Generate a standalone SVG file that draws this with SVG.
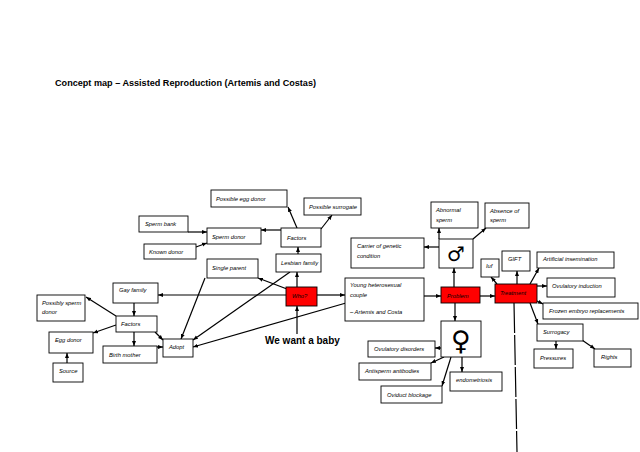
<svg xmlns="http://www.w3.org/2000/svg" width="640" height="452" viewBox="0 0 640 452">
<defs>
<style>
.n rect{fill:#fff;stroke:#000;stroke-width:0.9}
.n rect.r{fill:#f00}
.n text{font-family:"Liberation Sans",Arial,sans-serif;font-style:italic;font-size:5.8px;fill:#000}
.n text.sym{font-family:"DejaVu Sans",sans-serif;font-style:normal;font-weight:bold;text-anchor:middle}
.c line{stroke:#000;stroke-width:1.2;fill:none}
.c line.a{marker-end:url(#ah)}
.t{font-family:"Liberation Sans",Arial,sans-serif;font-weight:bold;fill:#000}
</style>
<marker id="ah" viewBox="0 0 10 10" refX="10" refY="5" markerWidth="5" markerHeight="5" markerUnits="userSpaceOnUse" orient="auto">
<path d="M0,1 L10,5 L0,9 z" fill="#000"/>
</marker>
</defs>
<rect width="640" height="452" fill="#fff"/>
<text class="t" x="55" y="85.5" font-size="9" textLength="261" lengthAdjust="spacingAndGlyphs">Concept map – Assisted Reproduction (Artemis and Costas)</text>

<g class="c">
<line class="a" x1="286" y1="295" x2="158" y2="295"/>
<line class="a" x1="317" y1="295" x2="345" y2="295"/>
<line class="a" x1="297" y1="287" x2="297" y2="272"/>
<line class="a" x1="287" y1="289" x2="258" y2="278"/>
<line class="a" x1="205" y1="278" x2="181" y2="339"/>
<line class="a" x1="290" y1="272" x2="193" y2="340"/>
<line class="a" x1="346" y1="303" x2="193" y2="347"/>
<line class="a" x1="297" y1="334" x2="297" y2="306"/>
<line class="a" x1="298" y1="254" x2="298" y2="247"/>
<line class="a" x1="281" y1="230" x2="261" y2="230"/>
<line class="a" x1="297" y1="228" x2="288" y2="207"/>
<line class="a" x1="321" y1="229" x2="332" y2="215"/>
<line class="a" x1="188" y1="232" x2="207" y2="232"/>
<line class="a" x1="196" y1="247" x2="207" y2="243"/>
<line class="a" x1="134" y1="303" x2="134" y2="316"/>
<line class="a" x1="116" y1="316" x2="86" y2="297"/>
<line class="a" x1="116" y1="325" x2="93" y2="333"/>
<line class="a" x1="134" y1="332" x2="134" y2="346"/>
<line class="a" x1="155" y1="332" x2="163" y2="340"/>
<line class="a" x1="157" y1="347" x2="163" y2="347"/>
<line class="a" x1="67" y1="363" x2="67" y2="353"/>
<line class="a" x1="424" y1="296" x2="441" y2="296"/>
<line class="a" x1="480" y1="296" x2="495" y2="296"/>
<line class="a" x1="454" y1="287" x2="454" y2="268"/>
<line class="a" x1="455" y1="303" x2="455" y2="321"/>
<line class="a" x1="439" y1="247" x2="424" y2="247"/>
<line class="a" x1="439" y1="239" x2="439" y2="228"/>
<line class="a" x1="473" y1="239" x2="486" y2="228"/>
<line class="a" x1="497" y1="284" x2="491" y2="277"/>
<line class="a" x1="517" y1="284" x2="517" y2="271"/>
<line class="a" x1="530" y1="284" x2="539" y2="268"/>
<line class="a" x1="537" y1="286" x2="547" y2="286"/>
<line class="a" x1="537" y1="301" x2="543" y2="304"/>
<line class="a" x1="530" y1="303" x2="538" y2="324"/>
<line class="a" x1="556" y1="341" x2="556" y2="349"/>
<line class="a" x1="582" y1="340" x2="595" y2="349"/>
<line class="a" x1="441" y1="348" x2="435" y2="348"/>
<line class="a" x1="444" y1="357" x2="431" y2="363"/>
<line class="a" x1="451" y1="357" x2="442" y2="386"/>
<line class="a" x1="462" y1="357" x2="462" y2="372"/>
<line x1="514" y1="303" x2="517" y2="452" stroke-dasharray="30 2"/>
</g>

<g class="n" id="possible-egg-donor"><rect x="211" y="190" width="76" height="17"/><text x="216" y="201">Possible egg donor</text></g>
<g class="n" id="possible-surrogate"><rect x="304" y="198" width="57" height="17"/><text x="309" y="209">Possible surrogate</text></g>
<g class="n" id="sperm-bank"><rect x="139" y="216" width="49" height="16"/><text x="145" y="226">Sperm bank</text></g>
<g class="n" id="sperm-donor"><rect x="207" y="228" width="54" height="16"/><text x="212" y="238.5">Sperm donor</text></g>
<g class="n" id="known-donor"><rect x="144" y="244" width="52" height="15"/><text x="149" y="254">Known donor</text></g>
<g class="n" id="factors-lesbian"><rect x="281" y="228" width="40" height="19"/><text x="287" y="239.5">Factors</text></g>
<g class="n" id="lesbian-family"><rect x="276" y="254" width="45" height="18"/><text x="281" y="265">Lesbian family</text></g>
<g class="n" id="single-parent"><rect x="207" y="259" width="51" height="19"/><text x="212" y="270">Single parent</text></g>
<g class="n" id="who"><rect class="r" x="286" y="287" width="31" height="19"/><text x="292" y="298">Who?</text></g>
<g class="n" id="young-couple"><rect x="345" y="278" width="79" height="43"/><text x="350" y="287">Young heterosexual</text><text x="350" y="297">couple</text><text x="350" y="314">– Artemis and Costa</text></g>
<g class="n" id="gay-family"><rect x="113" y="283" width="45" height="20"/><text x="119" y="291.5">Gay family</text></g>
<g class="n" id="possibly-sperm-donor"><rect x="37" y="295" width="48" height="26"/><text x="42" y="305">Possibly sperm</text><text x="42" y="314">donor</text></g>
<g class="n" id="factors-gay"><rect x="116" y="316" width="41" height="16"/><text x="121" y="325.5">Factors</text></g>
<g class="n" id="egg-donor"><rect x="49" y="332" width="44" height="21"/><text x="55" y="342">Egg donor</text></g>
<g class="n" id="birth-mother"><rect x="103" y="346" width="54" height="17"/><text x="109" y="356.5">Birth mother</text></g>
<g class="n" id="adopt"><rect x="163" y="339" width="30" height="18"/><text x="169" y="349">Adopt</text></g>
<g class="n" id="source"><rect x="53" y="363" width="30" height="19"/><text x="59" y="373">Source</text></g>
<g id="we-want-a-baby"><text class="t" x="265" y="344" font-size="10">We want a baby</text></g>
<g class="n" id="abnormal-sperm"><rect x="431" y="202" width="47" height="26"/><text x="436" y="211.5">Abnormal</text><text x="436" y="221.5">sperm</text></g>
<g class="n" id="absence-of-sperm"><rect x="485" y="203" width="44" height="25"/><text x="490" y="212.5">Absence of</text><text x="490" y="222">sperm</text></g>
<g class="n" id="male"><rect x="439" y="239" width="34" height="29"/><text class="sym" x="456" y="261" style="font-size:20px">♂</text></g>
<g class="n" id="carrier"><rect x="351" y="238" width="73" height="30"/><text x="357" y="248">Carrier of genetic</text><text x="357" y="258">condition</text></g>
<g class="n" id="problem"><rect class="r" x="441" y="287" width="39" height="16"/><text x="447" y="297.5">Problem</text></g>
<g class="n" id="treatment"><rect class="r" x="495" y="284" width="42" height="19"/><text x="500" y="294.5">Treatment</text></g>
<g class="n" id="iuf"><rect x="481" y="259" width="18" height="18"/><text x="486" y="268">Iuf</text></g>
<g class="n" id="gift"><rect x="502" y="251" width="28" height="20"/><text x="508" y="260.5">GIFT</text></g>
<g class="n" id="artificial-insemination"><rect x="537" y="252" width="77" height="16"/><text x="543" y="260.5">Artificial insemination</text></g>
<g class="n" id="ovulatory-induction"><rect x="547" y="278" width="68" height="19"/><text x="552" y="287.5">Ovulatory induction</text></g>
<g class="n" id="frozen-embryo"><rect x="543" y="303" width="95" height="16"/><text x="549" y="313">Frozen embryo replacements</text></g>
<g class="n" id="surrogacy"><rect x="537" y="324" width="46" height="17"/><text x="543" y="334">Surrogacy</text></g>
<g class="n" id="pressures"><rect x="534" y="349" width="39" height="19"/><text x="540" y="359.5">Pressures</text></g>
<g class="n" id="rights"><rect x="594" y="349" width="37" height="18"/><text x="601" y="359">Rights</text></g>
<g class="n" id="female"><rect x="441" y="321" width="40" height="36"/><text class="sym" x="461" y="350" style="font-size:27px">♀</text></g>
<g class="n" id="ovulatory-disorders"><rect x="368" y="341" width="67" height="16"/><text x="374" y="350.5">Ovulatory disorders</text></g>
<g class="n" id="antisperm-antibodies"><rect x="359" y="363" width="72" height="17"/><text x="365" y="373">Antisperm antibodies</text></g>
<g class="n" id="endometriosis"><rect x="450" y="372" width="52" height="19"/><text x="456" y="382">endometriosis</text></g>
<g class="n" id="oviduct-blockage"><rect x="381" y="386" width="61" height="17"/><text x="387" y="396.5">Oviduct blockage</text></g>
</svg>
